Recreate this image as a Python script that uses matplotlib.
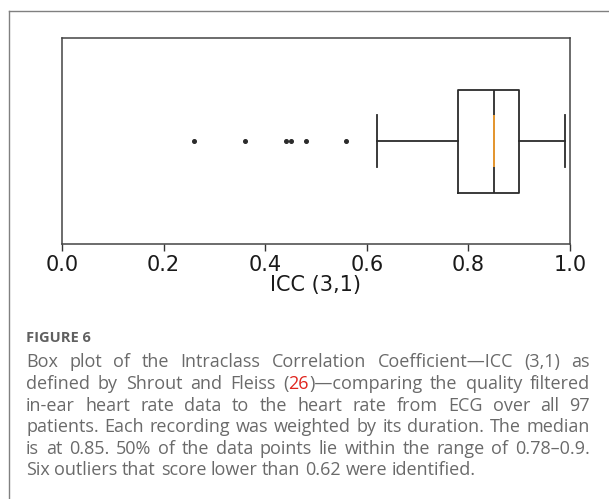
import matplotlib
matplotlib.use('Agg')
import matplotlib.pyplot as plt
from matplotlib.lines import Line2D

# box plot statistics
icc_median = 0.85
icc_q1 = 0.78
icc_q3 = 0.90
icc_whislo = 0.62
icc_whishi = 0.99
icc_outliers = [0.26, 0.36, 0.44, 0.45, 0.48, 0.56]

x_ticks = [0.0, 0.2, 0.4, 0.6, 0.8, 1.0]
x_label = 'ICC (3,1)'

caption_title = 'FIGURE 6'
# {..} marks the red reference number
caption_lines = [
    'Box plot of the Intraclass Correlation Coefficient\u2014ICC (3,1) as',
    'defined by Shrout and Fleiss ({26})\u2014comparing the quality filtered',
    'in-ear heart rate data to the heart rate from ECG over all 97',
    'patients. Each recording was weighted by its duration. The median',
    'is at 0.85. 50% of the data points lie within the range of 0.78\u20130.9.',
    'Six outliers that score lower than 0.62 were identified.',
]

W, H = 609, 499
fig = plt.figure(figsize=(W / 100, H / 100), dpi=100)
ax = fig.add_axes([62 / W, 1 - 244 / H, (570 - 62) / W, (244 - 38) / H])

stats = [dict(med=icc_median, q1=icc_q1, q3=icc_q3,
              whislo=icc_whislo, whishi=icc_whishi, fliers=icc_outliers)]
dark = '#2b2b2b'
ax.bxp(stats, vert=False, widths=0.5,
       boxprops=dict(color=dark, lw=1.3),
       whiskerprops=dict(color=dark, lw=1.3),
       capprops=dict(color=dark, lw=1.3),
       medianprops=dict(color=dark, lw=1.3),
       flierprops=dict(marker='o', markersize=2.6, markerfacecolor=dark,
                       markeredgecolor=dark))
# orange median segment only spans the cap width
med_only = [dict(med=icc_median, q1=icc_median, q3=icc_median,
                 whislo=icc_median, whishi=icc_median, fliers=[])]
ax.bxp(med_only, vert=False, widths=0.25, showcaps=False, showfliers=False,
       boxprops=dict(visible=False), whiskerprops=dict(visible=False),
       medianprops=dict(color='#f5a030', lw=1.3))

ax.set_xlim(0, 1)
ax.set_ylim(0.5, 1.5)
ax.set_yticks([])
ax.set_xticks(x_ticks)
ax.set_xticklabels([f'{t:.1f}' for t in x_ticks], fontsize=15, color='#1a1a1a')
ax.tick_params(axis='x', length=5, width=1, color='#333333', pad=3)
ax.set_xlabel(x_label, fontsize=15, color='#1a1a1a', labelpad=0)
for s in ax.spines.values():
    s.set_color('#444444')
    s.set_linewidth(1.1)

# page frame lines
fig.add_artist(Line2D([9 / W, 1], [1 - 11 / H, 1 - 11 / H], color='#808080', lw=1))
fig.add_artist(Line2D([9 / W, 9 / W], [0, 1 - 11 / H], color='#808080', lw=1))

# caption
txt_color = '#6a6a6a'
red = '#e0261f'
font = 'Open Sans'
fs = 13
left_px, right_px = 26, 590
fig.text(left_px / W, 1 - 338 / H, caption_title, fontsize=10.5, fontweight='bold',
         color='#606060', family=font, va='center')

renderer = fig.canvas.get_renderer()


def word_parts(word):
    parts = []
    buf = ''
    red_on = False
    for ch in word:
        if ch == '{':
            if buf:
                parts.append((buf, txt_color))
            buf = ''
            red_on = True
        elif ch == '}':
            parts.append((buf, red))
            buf = ''
            red_on = False
        else:
            buf += ch
    if buf:
        parts.append((buf, red if red_on else txt_color))
    return parts


def text_width(s):
    t = fig.text(0, 0, s, fontsize=fs, family=font)
    w = t.get_window_extent(renderer).width
    t.remove()
    return w


line_y = [362, 384, 406, 427, 449, 470]
for i, (line, y) in enumerate(zip(caption_lines, line_y)):
    words = [word_parts(w) for w in line.split(' ')]
    widths = []
    for parts in words:
        widths.append(sum(text_width(p[0]) for p in parts))
    if i < len(caption_lines) - 1:
        gap = (right_px - left_px - sum(widths)) / (len(words) - 1)
    else:
        gap = text_width('a b') - text_width('ab')
    x = left_px
    for parts, w in zip(words, widths):
        xx = x
        for s, c in parts:
            fig.text(xx / W, 1 - y / H, s, fontsize=fs, family=font,
                     color=c, va='center')
            xx += text_width(s)
        x += w + gap

fig.savefig('out.png', dpi=100)
